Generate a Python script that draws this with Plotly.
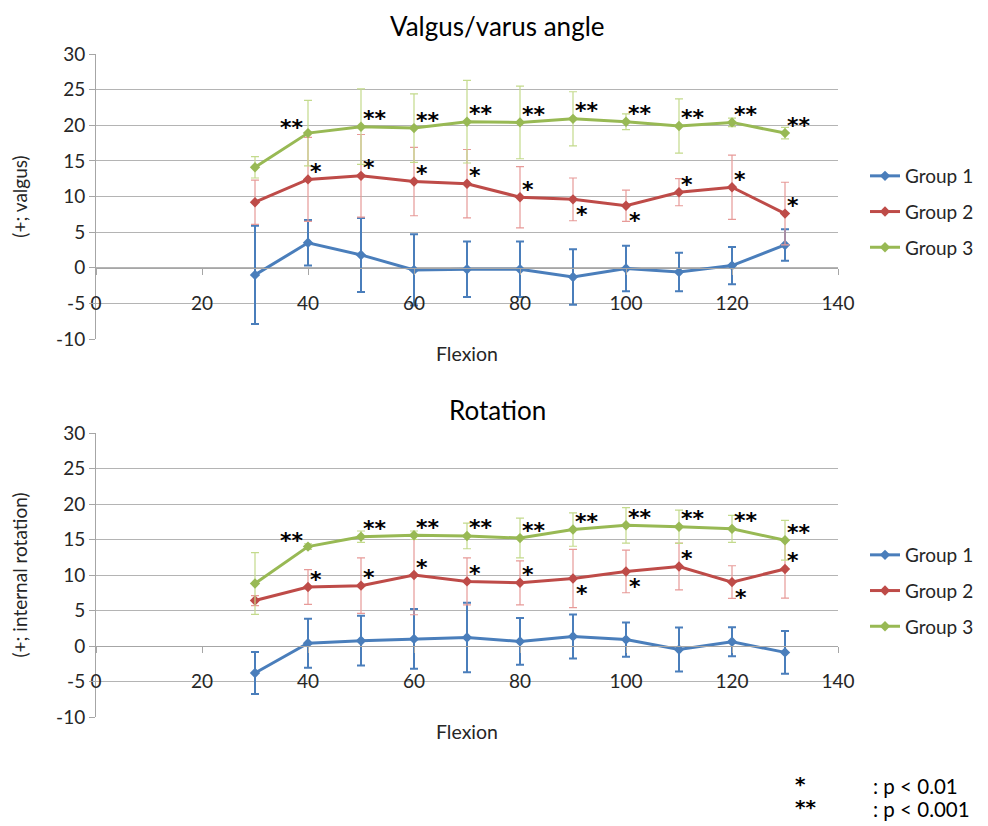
import plotly.graph_objects as go

# ---------------- data ----------------
flexion = [30, 40, 50, 60, 70, 80, 90, 100, 110, 120, 130]
group_names = ["Group 1", "Group 2", "Group 3"]

# Valgus/varus angle (deg)
g1_val = [-1.0, 3.5, 1.8, -0.3, -0.2, -0.2, -1.3, -0.1, -0.6, 0.3, 3.2]
g1_val_sd = [6.9, 3.2, 5.2, 5.0, 3.9, 3.9, 3.9, 3.2, 2.7, 2.6, 2.2]
g2_val = [9.2, 12.4, 12.9, 12.1, 11.8, 9.9, 9.6, 8.7, 10.6, 11.3, 7.6]
g2_val_sd = [3.1, 5.9, 5.8, 4.8, 4.8, 4.3, 3.0, 2.2, 1.9, 4.5, 4.4]
g3_val = [14.1, 18.9, 19.8, 19.6, 20.5, 20.4, 20.9, 20.5, 19.9, 20.4, 18.9]
g3_val_sd = [1.5, 4.6, 5.3, 4.8, 5.8, 5.1, 3.8, 1.1, 3.8, 0.6, 0.8]

# Rotation (deg)
g1_rot = [-3.8, 0.4, 0.75, 1.0, 1.2, 0.65, 1.35, 0.9, -0.5, 0.6, -0.9]
g1_rot_sd = [2.95, 3.45, 3.5, 4.2, 4.9, 3.3, 3.1, 2.4, 3.1, 2.05, 3.0]
g2_rot = [6.4, 8.3, 8.5, 10.0, 9.1, 8.9, 9.5, 10.5, 11.2, 9.0, 10.85]
g2_rot_sd = [0.7, 2.45, 3.9, 5.6, 3.3, 3.1, 4.1, 3.0, 3.3, 2.3, 4.1]
g3_rot = [8.8, 14.0, 15.4, 15.6, 15.5, 15.2, 16.4, 17.0, 16.8, 16.5, 14.9]
g3_rot_sd = [4.35, 0.4, 0.8, 0.6, 1.8, 2.8, 2.35, 2.5, 2.35, 1.9, 2.8]

# significance markers and their placement (ur = upper right, ul = upper left, lr = lower right)
sig_g2 = ["", "*", "*", "*", "*", "*", "*", "*", "*", "*", "*"]
sig_g3 = ["", "**", "**", "**", "**", "**", "**", "**", "**", "**", "**"]
pos_val_g2 = ["", "ur", "ur", "ur", "ur", "ur", "lr", "lr", "ur", "ur", "ur"]
pos_val_g3 = ["", "ul", "ur", "ur", "ur", "ur", "ur", "ur", "ur", "ur", "ur"]
pos_rot_g2 = ["", "ur", "ur", "ur", "ur", "ur", "lr", "lr", "ur", "lr", "ur"]
pos_rot_g3 = ["", "ul", "ur", "ur", "ur", "ur", "ur", "ur", "ur", "ur", "ur"]

x_ticks = [0, 20, 40, 60, 80, 100, 120, 140]
y_ticks = [-10, -5, 0, 5, 10, 15, 20, 25, 30]

titles = ["Valgus/varus angle", "Rotation"]
y_titles = ["(+; valgus)", "(+; internal rotation)"]
x_title = "Flexion"
footnotes = [("*", ": p < 0.01"), ("**", ": p < 0.001")]

# ---------------- style ----------------
OFF = 8                     # page body margin of the browser
W, H = 988 - OFF, 826 - OFF
FONT = "Lato"
STAR_FONT = "DejaVu Sans"
line_colors = ["#4a7ebb", "#be4b48", "#98b954"]
err_colors = ["#4a7ebb", "#e79a98", "#c3da8c"]
err_thick = [2, 1.2, 1.2]
grid_col = "#b4b4b4"
txt_col = "#262626"


def fx(px):
    return (px - OFF) / W


def fy(py):
    return 1 - (py - OFF) / H


# plot areas in window pixels
px_left, px_right = 96, 838
panels_px = [(54, 339), (433, 717)]
ymin, ymax = -10, 30

fig = go.Figure()

datasets = [
    [(g1_val, g1_val_sd), (g2_val, g2_val_sd), (g3_val, g3_val_sd)],
    [(g1_rot, g1_rot_sd), (g2_rot, g2_rot_sd), (g3_rot, g3_rot_sd)],
]
sig_pos = [
    [None, (sig_g2, pos_val_g2), (sig_g3, pos_val_g3)],
    [None, (sig_g2, pos_rot_g2), (sig_g3, pos_rot_g3)],
]
legend_ids = ["legend", "legend2"]
legend_mid_px = [212, 591]
title_top_px = [8, 392]

annotations = []
layout = {}
for p, (top_px, bot_px) in enumerate(panels_px):
    xa = "x" if p == 0 else "x2"
    ya = "y" if p == 0 else "y2"
    xkey = "xaxis" if p == 0 else "xaxis2"
    ykey = "yaxis" if p == 0 else "yaxis2"
    ydom = [fy(bot_px), fy(top_px)]
    zero_pos = ydom[0] + (0 - ymin) / (ymax - ymin) * (ydom[1] - ydom[0])

    for g, (vals, sds) in enumerate(datasets[p]):
        fig.add_trace(go.Scatter(
            x=flexion, y=vals, name=group_names[g], mode="lines+markers",
            xaxis=xa, yaxis=ya, legend=legend_ids[p],
            legendgroup=f"p{p}g{g}",
            line=dict(color=line_colors[g], width=3),
            marker=dict(symbol="diamond", size=8, color=line_colors[g]),
            error_y=dict(type="data", array=sds, visible=True,
                         color=err_colors[g], thickness=err_thick[g], width=4),
        ))
        if sig_pos[p][g] is not None:
            sigs, poss = sig_pos[p][g]
            for xi, yi, s, ps in zip(flexion, vals, sigs, poss):
                if not s:
                    continue
                if ps == "ur":
                    xanc, xs, ys = "left", 0, 8
                elif ps == "ul":
                    xanc, xs, ys = "right", -2, 6
                else:
                    xanc, xs, ys = "left", 1, -15
                annotations.append(dict(
                    x=xi, y=yi, xref=xa, yref=ya, text=f"<b>{s}</b>", showarrow=False,
                    xanchor=xanc, yanchor="middle", xshift=xs, yshift=ys,
                    font=dict(family=STAR_FONT, size=22, color="black"),
                ))

    layout[xkey] = dict(
        domain=[fx(px_left), fx(px_right)], range=[0, 140],
        anchor="free", position=zero_pos, automargin=False,
        tickmode="array", tickvals=x_ticks, ticktext=[str(t) for t in x_ticks],
        showgrid=False, zeroline=False, showline=True, linecolor="#a6a6a6", linewidth=1,
        ticks="outside", ticklen=6, tickcolor="#a6a6a6",
        tickfont=dict(family=FONT, size=19, color=txt_col),
        ticklabelstandoff=12,
        title=dict(text=x_title, font=dict(family=FONT, size=19.5, color=txt_col), standoff=34),
    )
    layout[ykey] = dict(
        domain=ydom, range=[ymin, ymax], anchor=xa, automargin=False,
        tickmode="array", tickvals=y_ticks, ticktext=[str(t) for t in y_ticks],
        showgrid=True, gridcolor=grid_col, gridwidth=1.3, zeroline=False,
        showline=True, linecolor="#a6a6a6", linewidth=1,
        ticks="outside", ticklen=6, tickcolor="#a6a6a6",
        tickfont=dict(family=FONT, size=19, color=txt_col),
        title=dict(text=y_titles[p], font=dict(family=FONT, size=19, color=txt_col), standoff=30),
    )
    layout[legend_ids[p]] = dict(
        x=fx(865), xanchor="left", y=fy(legend_mid_px[p]), yanchor="middle",
        font=dict(family=FONT, size=19, color=txt_col), tracegroupgap=8,
        bgcolor="rgba(0,0,0,0)", itemwidth=30,
    )
    annotations.append(dict(
        x=fx(497), y=fy(title_top_px[p]), xref="paper", yref="paper",
        text=titles[p], showarrow=False, xanchor="center", yanchor="top",
        font=dict(family=FONT, size=26, color="black"),
    ))

# footnote
for i, (sym, txt) in enumerate(footnotes):
    py = 786 + 23 * i
    annotations.append(dict(x=fx(793), y=fy(py), xref="paper", yref="paper", text=f"<b>{sym}</b>",
                            showarrow=False, xanchor="left", yanchor="middle", yshift=2,
                            font=dict(family=STAR_FONT, size=20, color="black")))
    annotations.append(dict(x=fx(871), y=fy(py), xref="paper", yref="paper", text=txt,
                            showarrow=False, xanchor="left", yanchor="middle",
                            font=dict(family=FONT, size=20.5, color="black")))

fig.update_layout(
    width=W, height=H, margin=dict(l=0, r=0, t=0, b=0, autoexpand=False),
    paper_bgcolor="white", plot_bgcolor="white",
    showlegend=True, annotations=annotations, **layout,
)

fig.write_html("out.html")
